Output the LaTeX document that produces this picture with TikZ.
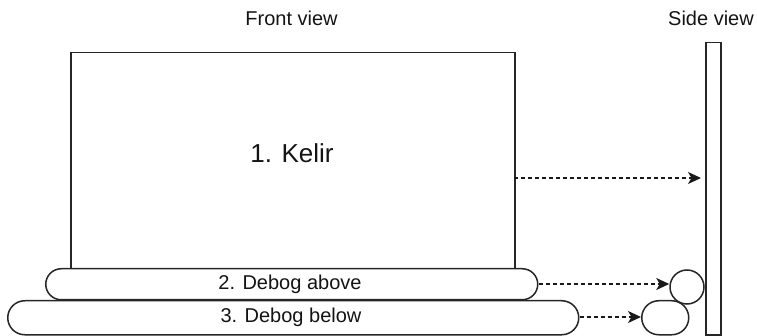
\documentclass[tikz,border=0pt]{standalone}
\usepackage{fontspec}
\setmainfont{Liberation Sans}
\usetikzlibrary{arrows.meta}
\begin{document}
\begin{tikzpicture}[x=1pt,y=-1pt,
  shape line/.style={draw=black!85, line width=1.5pt, fill=white},
  conn/.style={draw=black!90, line width=1.4pt, dash pattern=on 4pt off 3pt, -{Stealth[length=13pt,width=12pt,inset=3.5pt]}},
  lbl/.style={text=black!92, font=\fontsize{20}{24}\selectfont, inner sep=0pt}]
\useasboundingbox (0,0) rectangle (757,336);
% side view
\node[shape line, minimum width=15pt, minimum height=292pt, inner sep=0pt, anchor=north west] (side) at (705,42) {};
% front view
\node[shape line, minimum width=444pt, minimum height=216pt, inner sep=0pt, anchor=north west] (kelir) at (70,52) {};
\node[shape line, rounded corners=15.5pt, minimum width=492pt, minimum height=31pt, inner sep=0pt, anchor=north west] (above) at (45,268) {};
\node[shape line, rounded corners=17pt, minimum width=571pt, minimum height=34pt, inner sep=0pt, anchor=north west] (below) at (7,300) {};
% side small shapes
\node[shape line, rounded corners=17pt, minimum width=47pt, minimum height=34pt, inner sep=0pt, anchor=north west] (belowside) at (641,300) {};
\node[shape line, circle, minimum size=34pt, inner sep=0pt] (aboveside) at (687,287) {};
% labels
\node[lbl] (tfront) at (291.5,18) {Front view};
\node[lbl] (tside) at (711,18) {Side view};
\node[lbl, font=\fontsize{26}{30}\selectfont] (tkelir) at (292,153) {1. Kelir};
\node[lbl] (tabove) at (290,284) {2. Debog above};
\node[lbl] (tbelow) at (291,317) {3. Debog below};
% connectors
\coordinate (k1) at (514,178);
\coordinate (k2) at (701,178);
\draw[conn] (k1) -- (k2);
\draw[conn] (above.east |- 0,284) -- (aboveside.west |- 0,284);
\draw[conn] (below.east |- 0,317) -- (belowside.west |- 0,317);
\end{tikzpicture}
\end{document}
